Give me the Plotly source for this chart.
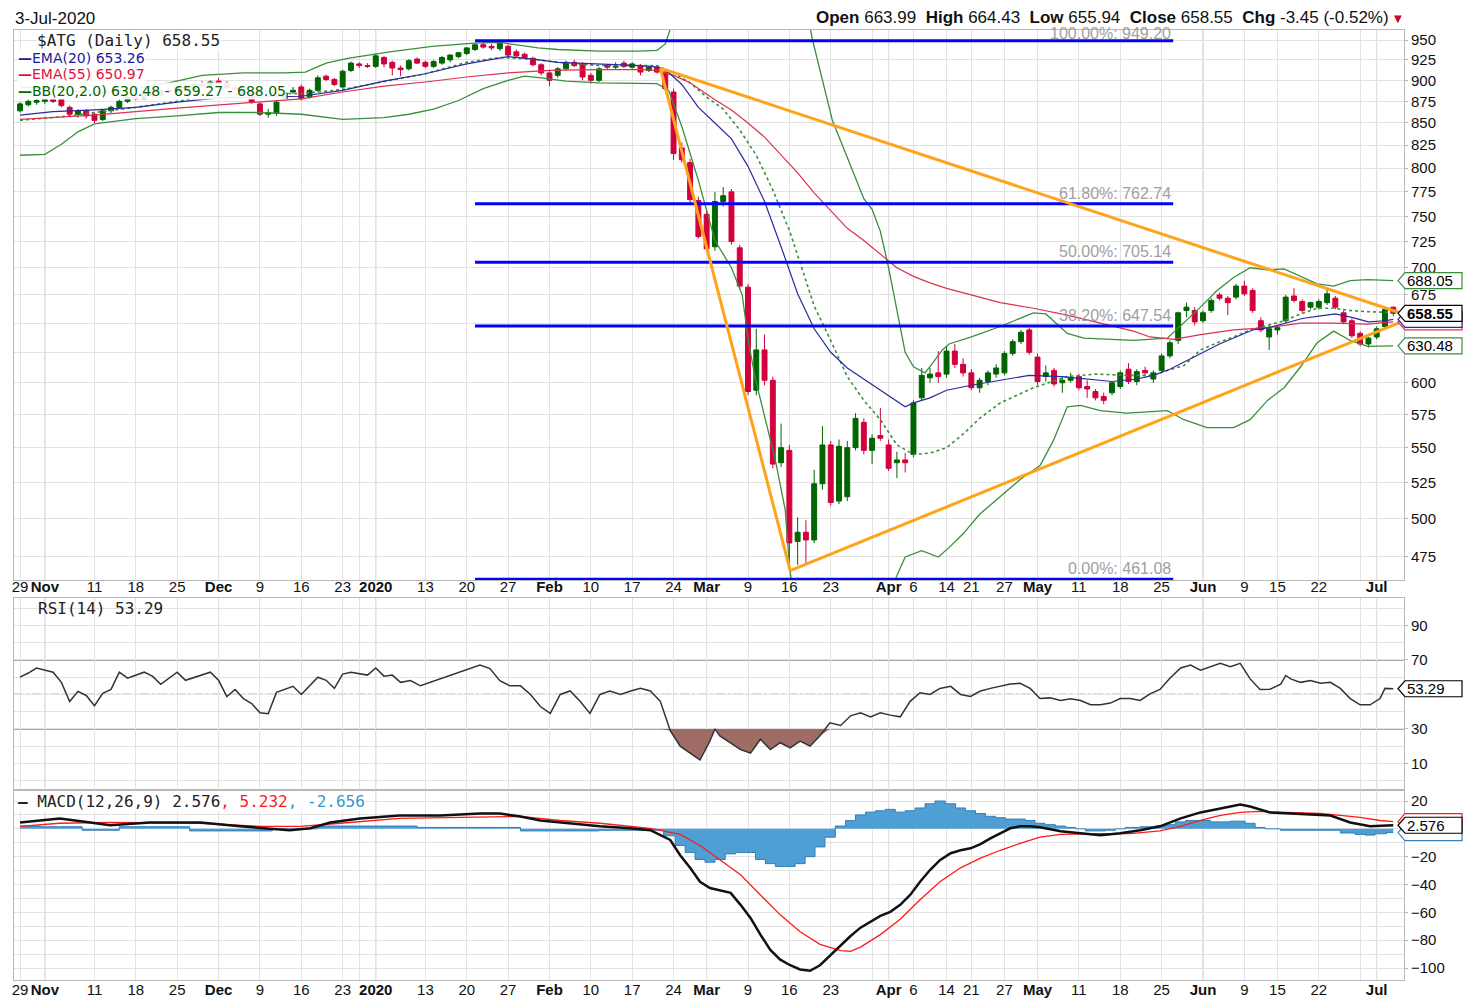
import numpy as np
import plotly.graph_objects as go

# ---------------- data (trading-day index 0..166, 29-Oct-2019 .. 3-Jul-2020) ----------------
tick_idx = [0, 3, 9, 14, 19, 24, 29, 34, 39, 43, 49, 54, 59, 64, 69, 74, 79, 83, 88, 93, 98,
            105, 108, 112, 115, 119, 123, 128, 133, 138, 143, 148, 152, 157, 164]
tick_text = ['29', 'Nov', '11', '18', '25', 'Dec', '9', '16', '23', '2020', '13', '20', '27', 'Feb',
             '10', '17', '24', 'Mar', '9', '16', '23', 'Apr', '6', '14', '21', '27', 'May', '11', '18',
             '25', 'Jun', '9', '15', '22', 'Jul']
month_idx = [3, 24, 43, 64, 83, 105, 123, 143, 164]
extra_week_idx = [41, 103, 162]

opens = [864, 871, 874, 875, 877, 877, 868, 860, 864, 860,
         854, 864, 868, 875, 880, 878, 885, 882, 888, 886,
         892, 890, 895, 894, 899, 896, 891, 889, 884, 872,
         860, 861, 878, 886, 892, 880, 888, 905, 901, 892,
         912, 920, 918, 917, 928, 922, 915, 914, 926, 922,
         917, 921, 925, 929, 933, 938, 944, 942, 939, 942,
         935, 932, 927, 919, 909, 906, 914, 922, 919, 906,
         900, 918, 916, 921, 916, 918, 912, 916, 910, 886,
         822, 806, 766, 752, 720, 765, 775, 719, 682, 594,
         627, 602, 539, 548, 485, 491, 486, 524, 552, 512,
         515, 550, 569, 548, 559, 552, 539, 541, 545, 588,
         604, 608, 607, 626, 615, 608, 596, 601, 607, 608,
         624, 634, 644, 621, 605, 610, 600, 602, 605, 597,
         593, 589, 592, 597, 611, 601, 610, 603, 610, 622,
         635, 661, 661, 652, 661, 675, 672, 673, 683, 679,
         652, 638, 644, 652, 674, 669, 664, 664, 668, 672,
         659, 652, 641, 632, 638, 647, 663.99]
highs = [874, 877, 878, 879, 880, 880, 870, 866, 866, 862,
         866, 870, 877, 882, 884, 886, 888, 890, 892, 894,
         896, 897, 899, 900, 903, 899, 895, 893, 887, 874,
         866, 876, 888, 892, 895, 890, 906, 907, 903, 913,
         923, 922, 921, 933, 930, 924, 918, 926, 928, 924,
         925, 930, 932, 935, 941, 946, 947, 945, 949.2, 944,
         938, 934, 929, 921, 911, 916, 924, 925, 922, 909,
         916, 920, 922, 924, 922, 920, 918, 918, 912, 890,
         828, 810, 770, 758, 775, 780, 778, 722, 685, 645,
         640, 605, 568, 552, 501, 499, 534, 566, 555, 556,
         555, 576, 572, 560, 580, 556, 547, 546, 586, 612,
         612, 626, 630, 632, 620, 611, 604, 610, 615, 626,
         636, 644, 646, 624, 614, 612, 605, 608, 607, 602,
         595, 592, 601, 610, 616, 611, 613, 610, 624, 635,
         660, 668, 664, 661, 672, 677, 674, 685, 688, 681,
         655, 648, 648, 675, 681, 671, 669, 671, 681, 674,
         661, 654, 643, 638, 647, 663, 664.43]
lows = [862, 869, 871, 872, 873, 868, 858, 856, 855, 850,
        852, 861, 866, 873, 876, 877, 880, 881, 884, 885,
        887, 888, 891, 892, 893, 889, 886, 882, 872, 858,
        856, 858, 876, 884, 876, 878, 886, 899, 893, 890,
        910, 915, 915, 915, 916, 906, 905, 912, 920, 915,
        915, 919, 922, 927, 931, 936, 939, 937, 936, 929,
        928, 926, 917, 906, 893, 903, 912, 916, 900, 896,
        898, 913, 913, 915, 914, 906, 910, 908, 888, 809,
        806, 764, 728, 715, 716, 760, 722, 680, 590, 590,
        598, 535, 536, 470, 470, 471, 484, 520, 509, 510,
        512, 548, 545, 538, 555, 533, 528, 532, 543, 586,
        600, 600, 604, 612, 605, 594, 592, 598, 604, 606,
        622, 632, 623, 598, 601, 597, 592, 600, 594, 588,
        586, 583, 590, 595, 599, 598, 605, 600, 608, 620,
        632, 655, 648, 650, 659, 670, 657, 671, 674, 659,
        642, 627, 640, 650, 668, 659, 662, 662, 666, 662,
        649, 637, 630, 629, 636, 645, 655.94]
closes = [872, 875, 876, 877, 875, 870, 860, 864, 858, 853,
          864, 868, 875, 880, 878, 885, 882, 888, 886, 892,
          890, 895, 893, 898, 896, 891, 889, 884, 874, 860,
          862, 874, 885, 888, 878, 888, 903, 901, 895, 911,
          921, 918, 917, 930, 920, 915, 913, 924, 921, 917,
          923, 928, 931, 934, 940, 944, 941, 940, 946, 931,
          930, 928, 919, 909, 900, 914, 922, 918, 904, 900,
          914, 916, 917, 917, 920, 910, 916, 910, 890, 816,
          809, 767, 730, 718, 765, 771, 725, 683, 593, 627,
          602, 538, 550, 484, 491, 486, 524, 552, 511, 551,
          550, 572, 548, 557, 557, 535, 541, 539, 584, 606,
          607, 605, 626, 615, 608, 596, 602, 608, 612, 624,
          634, 642, 625, 601, 608, 599, 602, 604, 596, 595,
          588, 586, 600, 608, 601, 609, 608, 608, 622, 633,
          659, 664, 651, 659, 670, 672, 668, 683, 676, 661,
          644, 645, 646, 673, 670, 661, 668, 669, 676, 664,
          651, 639, 632, 637, 645, 662, 658.55]

ema20_pts = [(0, 859), (4, 863), (9, 865), (14, 868), (19, 874), (24, 879), (29, 880), (34, 881), (39, 888),
             (44, 899), (49, 908), (54, 920), (59, 929), (62, 926), (65, 922), (70, 920), (75, 918), (77, 916),
             (78, 913), (80, 895), (82, 868), (84, 850), (86, 832), (88, 802), (90, 765), (92, 720), (94, 676),
             (96, 645), (98, 625), (100, 612), (102, 603), (104, 594), (106, 585), (107, 581), (108, 584),
             (110, 588), (112, 594), (115, 598), (118.5, 602), (122, 606), (126, 605), (129, 603), (132, 601),
             (135, 603), (137, 606), (139, 611), (141, 618), (143, 625), (145, 632), (147, 638), (149, 644),
             (151, 646), (153, 650), (155, 654), (157, 656), (159, 658), (161, 655), (163, 651), (165, 652),
             (166, 653.26)]
ema55_pts = [(0, 854), (9, 859), (19, 867), (29, 874), (34, 878), (39, 886), (44, 893), (49, 898), (54, 904),
             (59, 909), (64, 912), (70, 913), (75, 913), (77, 912), (79, 906), (81, 897), (84, 877), (86, 865),
             (88, 850), (90, 834), (92, 814), (94, 795), (96, 774), (98, 756), (100, 738), (102, 726), (104, 713),
             (106, 700), (108, 692), (110, 686), (112, 681), (115, 675), (118.5, 668), (122.5, 663), (126.6, 657),
             (130.6, 650), (134.6, 643), (136.6, 638), (139.5, 636), (142.7, 640), (146.7, 644), (150.8, 646),
             (154.8, 650), (158.8, 650), (162.9, 649), (166, 650.97)]
bb_up_pts = [(0, 892), (5, 889), (9, 884), (14, 890), (18, 897), (22, 906), (27, 909), (32, 909), (34.5, 910),
             (37, 921), (39.6, 927), (44.7, 935), (49.8, 942), (54.9, 946), (58, 947), (60, 944), (62.6, 940),
             (65, 938), (70, 936), (75, 936), (77, 937), (78, 945), (79, 975), (80, 1010), (85, 1100), (90, 1150),
             (94, 1050), (95.8, 950), (98.2, 853), (100.2, 806), (102, 768), (103, 757), (104, 735), (105, 700),
             (106, 660), (107, 625), (108, 613), (109.4, 608), (110.2, 615), (111.5, 627), (112.3, 632),
             (115, 638), (118.5, 647), (122.5, 659), (124, 658), (126.6, 641), (128.6, 637), (134.6, 635),
             (138.7, 637), (140.7, 650), (142.7, 664), (144.7, 679), (146.7, 691), (148.7, 700), (150.8, 698),
             (152.8, 699), (154.8, 692), (156.8, 685), (158.8, 683), (160.8, 688), (162.9, 689), (166, 688.05)]
bb_mid_pts = [(0, 853), (5, 857), (9, 862), (14, 868), (19, 875), (24, 883), (29, 885), (34, 884), (39, 889),
              (44, 898), (49, 908), (54, 922), (58, 928), (62, 926), (65, 922), (70, 918), (75, 918), (77, 918),
              (79, 909), (81, 897), (83, 880), (85, 866), (87, 842), (89, 814), (91, 777), (93, 736), (94.5, 700),
              (96, 665), (98, 635), (100, 605), (102, 586), (104, 571), (106, 552), (108, 545), (110, 546),
              (112, 550), (114, 560), (116, 572), (118.5, 584), (122.5, 596), (126.6, 605), (130, 607), (134, 606),
              (137, 606), (138.7, 610), (140.7, 614), (142.7, 627), (144.7, 633), (146.7, 638), (148.7, 644),
              (150.8, 648), (152.8, 652), (154.8, 658), (156.8, 663), (158.8, 663), (160.8, 661), (162.9, 660),
              (166, 659.27)]
bb_lo_pts = [(0, 814), (3, 815), (5, 826), (7, 840), (9, 849), (14, 855), (19, 858), (24, 862), (29, 862),
             (34, 860), (39, 854), (44, 856), (47, 860), (50, 866), (53, 876), (56, 890), (59, 900), (61, 905),
             (63, 903), (66, 899), (70, 897), (77, 896), (78.4, 888), (80, 846), (82, 787), (84, 726), (86, 700),
             (87.3, 675), (88.1, 632), (88.9, 603), (90.1, 571), (91.3, 541), (92.5, 506), (93, 470), (94, 430),
             (96, 380), (100, 370), (104, 400), (105.8, 461), (107, 475), (109, 479), (111, 475), (112.3, 481),
             (114, 490), (116, 503), (118.5, 515), (120.9, 527), (123.3, 537), (124.9, 555), (126.6, 581),
             (128.2, 582), (130.6, 578), (133.8, 576), (138.7, 578), (140.7, 571), (143.5, 565), (146.7, 565),
             (148.7, 571), (150.8, 586), (152.8, 596), (154.8, 613), (156.8, 633), (158.8, 643), (160.8, 635),
             (162.9, 630), (166, 630.48)]

fib_levels = [949.20, 762.74, 705.14, 647.54, 461.08]
fib_labels = ['100.00%: 949.20', '61.80%: 762.74', '50.00%: 705.14', '38.20%: 647.54', '0.00%: 461.08']
fib_span = [55, 139.4]

# trend-line vertices (day index, price)
trend_top = (77.4, 914.9)
trend_low = (93.1, 466.4)
trend_upper_end = (166.9, 658.8)
trend_lower_end = (166.9, 650.9)

rsi_pts = [(0, 60), (1, 62.4), (2, 65.3), (4, 62.9), (5, 57), (6, 45.9), (7, 51.8), (8, 49.4), (9, 43.5),
           (10, 50.6), (11, 52.9), (12, 62.9), (13, 59.4), (15, 62.9), (16, 60.6), (17, 55.9), (19, 62.9),
           (20, 58.2), (23, 62.9), (24, 58.2), (25, 48.8), (26, 52.9), (27, 47.6), (28, 44.7), (29, 39.4),
           (30, 38.8), (31, 51.2), (33, 54.7), (34, 50), (36, 60), (37, 58.2), (38, 53.5), (39, 61.8),
           (40, 62.9), (42, 61.2), (43, 65.3), (44, 60.6), (45, 61.2), (46, 57), (47.2, 58), (48.4, 55),
           (50.8, 59), (53.2, 63), (54.4, 65), (55.6, 67), (56.8, 65), (58, 58), (59.2, 55), (60.5, 55),
           (61.7, 50), (62.9, 43), (64.1, 39), (65.3, 50), (66.5, 52), (67.7, 46), (68.9, 39), (70.1, 50),
           (71.3, 52), (72.6, 50), (73.8, 52), (75, 53.5), (76.2, 52), (77.4, 46), (78.6, 29), (79.8, 20),
           (81, 16), (82.2, 12), (83.4, 23), (84, 30), (84.6, 26), (85.9, 22), (87.1, 18), (88.3, 16),
           (89.5, 24), (90.7, 18), (91.9, 22), (93.1, 19), (94.3, 23), (95.5, 20), (96.7, 26), (97.9, 33.5),
           (99.2, 32), (100.4, 37.6), (101.6, 39.4), (102.8, 37), (104, 39.4), (105.2, 38), (106.4, 37),
           (107.6, 46), (108.8, 51), (110, 50), (111.2, 53.5), (112.5, 54.7), (113.7, 50), (114.9, 48.8),
           (116.1, 52), (117.3, 53.5), (118.5, 54.7), (119.7, 56), (120.9, 56.5), (122.1, 53.5), (123.3, 47.6),
           (124.5, 48), (125.8, 46.5), (127, 47.5), (128.2, 46.5), (129.4, 44), (130.6, 44), (131.8, 45),
           (133, 47.6), (134.2, 47.6), (135.4, 46.5), (136.6, 50.3), (137.8, 52.9), (139, 59.4), (140.3, 65.3),
           (141.5, 67), (142.7, 64), (143.9, 66), (145.1, 68), (146.3, 66), (147.5, 68), (148.7, 59),
           (149.9, 52.9), (151.1, 53), (152.4, 56), (153, 61), (153.6, 59), (154.8, 57), (156, 58),
           (157.2, 56.5), (158.4, 57), (159.6, 53.5), (160.8, 47.6), (162, 44), (163.2, 44), (164.4, 47.6),
           (165, 53.5), (166, 53.29)]

macd_pts = [(0, 4.6), (2.4, 6), (4.8, 7.5), (8.5, 4.6), (10.9, 2.5), (15.7, 4.6), (21.8, 4.6), (26.6, 1.8),
            (30.2, 0.4), (32.6, -1), (35.1, 0.4), (37.5, 4.6), (41.1, 7.5), (45.9, 9.6), (50.8, 9.6), (55.6, 11),
            (58, 11), (60.5, 8.9), (62.9, 6), (65.3, 4.6), (70.1, 1.8), (73.8, 0.4), (76.2, -1), (78.6, -8),
            (79.8, -19), (81, -28), (82.2, -38), (83.4, -42.5), (84.6, -44), (85.9, -46), (87.1, -54.6),
            (88.3, -64), (89.5, -76), (90.7, -87), (91.9, -94), (93.1, -98), (94.3, -101), (95.5, -102),
            (96.7, -98), (97.9, -91), (99.2, -84), (100.4, -77), (101.6, -71), (102.8, -67), (104, -62.5),
            (105.2, -59.6), (106.4, -54.6), (107.6, -47.5), (108.8, -38), (110, -29.6), (111.2, -22.5),
            (112.5, -17.5), (113.7, -15.4), (114.9, -14), (116.1, -11), (117.3, -6.8), (118.5, -3.2),
            (119.7, 0.4), (120.9, 1.8), (122.1, 1.8), (123.3, 1.2), (124.5, -0.4), (125.8, -1.8), (128.2, -3.2),
            (130.6, -4.6), (133, -3.2), (135.4, -1), (137.8, 1.8), (140.3, 7.5), (142.7, 11.8), (145.1, 14.6),
            (147.5, 17.5), (148.7, 16), (151.1, 11.8), (153.6, 11), (156, 10.4), (158.4, 9.6), (160.8, 4.6),
            (163.2, 1.8), (166, 2.576)]
signal_pts = [(0, 1.8), (4.8, 4), (10.9, 4.6), (16.9, 4), (21.8, 4), (29, 1.8), (33.9, 1.8), (38.7, 4),
              (45.9, 7.5), (53.2, 8.2), (60.5, 8.9), (65.3, 6), (70.1, 4), (76.2, 0.4), (79.8, -4), (82.2, -12),
              (84.6, -22.5), (87.1, -33), (89.5, -47.5), (91.9, -61.8), (94.3, -74), (96.7, -83), (99.2, -87.5),
              (100.4, -88), (101.6, -85), (104, -76), (106.4, -65), (108.8, -51), (111.2, -38), (113.7, -28),
              (116.1, -21), (118.5, -15.4), (120.9, -10.4), (123.3, -6), (125.8, -4), (128.2, -3.5),
              (130.6, -3.5), (134.2, -3.5), (137.8, -1.5), (140.3, 1.8), (142.7, 6), (145.1, 9.6), (147.5, 11.8),
              (149.9, 12.5), (152.4, 12), (154.8, 12), (157.2, 11), (159.6, 9.6), (162, 8.2), (164.4, 6),
              (166, 5.232)]
hist_pts = [(0, 2), (5, 1.5), (10, -1), (14, 1.5), (27, -1.5), (34, 0), (38, 2), (58, 1), (63, -1.5), (77, -1),
            (78.6, -5), (79.8, -12), (81, -17), (82.2, -22), (83.4, -24), (84.6, -22), (85.9, -18), (87.1, -17),
            (88.3, -17), (89.5, -22), (90.7, -25), (91.9, -27), (93.1, -27), (94.3, -25), (95.5, -20),
            (96.7, -13), (97.9, -6), (99.2, 2), (100.4, 6), (101.6, 10), (102.8, 12), (104, 13), (105.2, 14),
            (106.4, 12), (107.6, 13), (108.8, 15), (110, 18), (111.2, 20), (112.5, 18), (113.7, 15),
            (114.9, 13), (116.1, 11), (117.3, 9), (118.5, 8), (119.7, 7), (120.9, 7), (122.1, 6), (123.3, 4),
            (124.5, 3), (125.8, 2), (127, 1), (128.2, 0), (129.4, -1.5), (130.6, -1.5), (131.8, -1), (133, 0),
            (134.2, 1), (136.6, 1.5), (137.8, 2), (139, 3), (140.3, 5), (141.5, 6), (142.7, 6), (145.1, 5),
            (147.5, 5.5), (148.7, 4), (149.9, 1), (151.1, 0), (153.6, -1), (158.4, -1), (160.8, -3), (162, -4),
            (163.2, -4.5), (164.4, -3.5), (166, -2.656)]

# ---------------- layout geometry ----------------
W, H = 1463, 999
ML, MR, MT, MB = 14, 59, 30, 19
PW, PH = W - ML - MR, H - MT - MB


def pyf(ypix):
    return (H - MB - ypix) / PH


def pxf(xpix):
    return (xpix - ML) / PW


MAIN_DOM = [pyf(580), 1.0]
RSI_DOM = [pyf(790), pyf(598)]
MACD_DOM = [0.0, pyf(790)]
XR = [-0.73, 167.3]

GREEN = '#006400'
RED = '#d2003c'
BBG = '#3a8f3a'
EMA20C = '#2a2aa0'
EMA55C = '#dc3250'


def split(pts):
    return [p[0] for p in pts], [p[1] for p in pts]


fig = go.Figure()
idx = list(range(len(closes)))

for pts, col, dash, wd in [(bb_up_pts, BBG, 'solid', 1.3), (bb_lo_pts, BBG, 'solid', 1.3),
                           (bb_mid_pts, BBG, 'dot', 1.6), (ema55_pts, EMA55C, 'solid', 1.2),
                           (ema20_pts, EMA20C, 'solid', 1.2)]:
    xs, ys = split(pts)
    fig.add_trace(go.Scatter(x=xs, y=ys, mode='lines', line=dict(color=col, width=wd, dash=dash),
                             xaxis='x', yaxis='y', hoverinfo='skip'))

fig.add_trace(go.Candlestick(x=idx, open=opens, high=highs, low=lows, close=closes,
                             increasing=dict(line=dict(color=GREEN, width=1), fillcolor=GREEN),
                             decreasing=dict(line=dict(color=RED, width=1), fillcolor=RED),
                             whiskerwidth=0, xaxis='x', yaxis='y', hoverinfo='skip'))

for lv in fib_levels:
    fig.add_trace(go.Scatter(x=fib_span, y=[lv, lv], mode='lines', line=dict(color='#0000ff', width=3),
                             xaxis='x', yaxis='y', hoverinfo='skip'))

for a, b in [(trend_top, trend_low), (trend_low, trend_lower_end), (trend_top, trend_upper_end)]:
    fig.add_trace(go.Scatter(x=[a[0], b[0]], y=[a[1], b[1]], mode='lines',
                             line=dict(color='#ffa31a', width=3), xaxis='x', yaxis='y', hoverinfo='skip'))

# RSI
rx, rv = split(rsi_pts)
fig.add_trace(go.Scatter(x=rx, y=[30] * len(rx), mode='lines', line=dict(width=0), xaxis='x2', yaxis='y2',
                         hoverinfo='skip'))
fig.add_trace(go.Scatter(x=rx, y=[min(v, 30) for v in rv], mode='lines', line=dict(width=0),
                         fill='tonexty', fillcolor='#9e6c65', xaxis='x2', yaxis='y2', hoverinfo='skip'))
fig.add_trace(go.Scatter(x=rx, y=rv, mode='lines', line=dict(color='#333333', width=1.5),
                         xaxis='x2', yaxis='y2', hoverinfo='skip'))

# MACD
hx, hv = split(hist_pts)
fig.add_trace(go.Scatter(x=hx, y=hv, mode='lines', line=dict(color='#2f7fb8', width=1, shape='hvh'),
                         fill='tozeroy', fillcolor='#4f9fd4', xaxis='x3', yaxis='y3', hoverinfo='skip'))
sx, sv = split(signal_pts)
fig.add_trace(go.Scatter(x=sx, y=sv, mode='lines', line=dict(color='#ff1a1a', width=1.3),
                         xaxis='x3', yaxis='y3', hoverinfo='skip'))
mx, mv = split(macd_pts)
fig.add_trace(go.Scatter(x=mx, y=mv, mode='lines', line=dict(color='#111111', width=2.5),
                         xaxis='x3', yaxis='y3', hoverinfo='skip'))

AX_FONT = dict(family='Liberation Sans, Arial', size=15, color='#111111')
X_FONT = dict(family='Liberation Sans, Arial', size=15, color='#111111')
tick_lbl = ['<b>%s</b>' % t if i in month_idx else t for i, t in zip(tick_idx, tick_text)]

xcommon = dict(range=XR, showgrid=True, gridcolor='#e2e2e2', gridwidth=1, zeroline=False, automargin=False,
               showline=True, linecolor='#b8b8b8', mirror=True, ticks='', tickvals=tick_idx, tickangle=0,
               minor=dict(tickvals=extra_week_idx, showgrid=True, gridcolor='#e2e2e2'))
ycommon = dict(side='right', tickfont=AX_FONT, showgrid=True, gridcolor='#e2e2e2', zeroline=False,
               automargin=False, showline=True, linecolor='#b8b8b8', mirror=True, ticks='outside', ticklen=3,
               tickcolor='#b8b8b8')

fig.update_layout(
    width=W, height=H, margin=dict(l=ML, r=MR, t=MT, b=MB), paper_bgcolor='white', plot_bgcolor='white',
    showlegend=False, boxgap=0.15,
    xaxis=dict(domain=[0, 1], anchor='y', ticktext=tick_lbl, tickfont=X_FONT, ticklabelstandoff=-7,
               rangeslider=dict(visible=False), **xcommon),
    xaxis2=dict(domain=[0, 1], anchor='y2', matches='x', showticklabels=False, **xcommon),
    xaxis3=dict(domain=[0, 1], anchor='y3', matches='x', ticktext=tick_lbl, tickfont=X_FONT,
                ticklabelstandoff=-4, **xcommon),
    yaxis=dict(domain=MAIN_DOM, type='log', range=[2.663297, 2.983547],
               tickvals=[v for v in range(475, 951, 25) if v not in (625, 650)],
               minor=dict(tickvals=[625, 650], showgrid=True, gridcolor='#e2e2e2', ticks=''), **ycommon),
    yaxis2=dict(domain=RSI_DOM, range=[-5.4, 105.9], tickvals=[10, 30, 70, 90],
                minor=dict(tickvals=[0, 20, 40, 50, 60, 80, 100], showgrid=True, gridcolor='#e2e2e2'),
                **ycommon),
    yaxis3=dict(domain=MACD_DOM, range=[-108.6, 27.9], tickvals=[-100, -80, -60, -40, -20, 20],
                minor=dict(tickvals=[-90, -70, -50, -30, -10, 0, 10], showgrid=True, gridcolor='#e2e2e2'),
                **ycommon),
)

shapes = []
for m in month_idx:
    for dom in (MAIN_DOM, RSI_DOM, MACD_DOM):
        shapes.append(dict(type='line', xref='x', yref='paper', x0=m, x1=m, y0=dom[0], y1=dom[1],
                           line=dict(color='#c4c4c4', width=1), layer='below'))
for lv, dash in [(70, 'solid'), (30, 'solid'), (50, 'dashdot')]:
    shapes.append(dict(type='line', xref='paper', yref='y2', x0=0, x1=1, y0=lv, y1=lv,
                       line=dict(color='#555555' if dash == 'solid' else '#777777', width=1.2, dash=dash),
                       layer='below'))


def tag(yref, yval, color, width=58):
    return dict(type='path', xref='paper', yref=yref, xsizemode='pixel', ysizemode='pixel', xanchor=1,
                yanchor=yval, path='M -6 0 L 1 8 L %d 8 L %d -8 L 1 -8 Z' % (width, width),
                fillcolor='white', line=dict(color=color, width=1.2), layer='above')


shapes += [tag('y', 650.97, EMA55C), tag('y', 653.26, EMA20C), tag('y', 688.05, BBG),
           tag('y', 630.48, BBG), tag('y', 658.55, '#000000'),
           tag('y2', 53.29, '#000000'),
           tag('y3', -2.656, '#3a7fc0'), tag('y3', 5.232, '#ff1a1a'), tag('y3', 2.576, '#000000')]
fig.update_layout(shapes=shapes)

ann = []
TAGF = dict(family='Liberation Sans, Arial', size=15, color='#000000')
for yref, val, txt, bold in [('y', np.log10(688.05), '688.05', False), ('y', np.log10(630.48), '630.48', False),
                             ('y', np.log10(658.55), '658.55', True), ('y2', 53.29, '53.29', False),
                             ('y3', 2.576, '2.576', False)]:
    ann.append(dict(xref='paper', x=1, xanchor='left', xshift=1, yref=yref, y=val, yanchor='middle',
                    text='<b>%s</b>' % txt if bold else txt, showarrow=False, font=TAGF))

for k, (lv, lb) in enumerate(zip(fib_levels, fib_labels)):
    ann.append(dict(xref='x', x=fib_span[1], xanchor='right', yref='y', y=np.log10(lv), yanchor='bottom',
                    yshift=-3 if k == 0 else 0, text=lb, showarrow=False,
                    font=dict(family='Liberation Sans, Arial', size=16, color='#a0a0a0')))

MONO = 'DejaVu Sans Mono, Liberation Mono'
PROP = 'DejaVu Sans, Verdana'
legend_rows = [(41, '$ATG (Daily) 658.55', '#222222', '', MONO, 16),
               (58, 'EMA(20) 653.26', '#1a1a9e', '<b>—</b>', PROP, 14),
               (74, 'EMA(55) 650.97', '#e0103c', '<b>—</b>', PROP, 14),
               (91, 'BB(20,2.0) 630.48 - 659.27 - 688.05', '#006400', '<b>—</b>', PROP, 14)]
for ypx, txt, col, pre, fam, sz in legend_rows:
    ann.append(dict(xref='paper', x=pxf(17 if pre else 36), xanchor='left', yref='paper', y=pyf(ypx),
                    yanchor='middle', text=pre + txt, showarrow=False, bgcolor='rgba(255,255,255,0.9)',
                    borderpad=0, font=dict(family=fam, size=sz, color=col)))

ann.append(dict(xref='paper', x=pxf(36), xanchor='left', yref='paper', y=pyf(608), yanchor='middle',
                text='RSI(14) 53.29', showarrow=False, font=dict(family=MONO, size=16, color='#222222')))
ann.append(dict(xref='paper', x=pxf(17), xanchor='left', yref='paper', y=pyf(801), yanchor='middle',
                text='<b>—</b> MACD(12,26,9) 2.576<span style="color:#ff1a1a">, 5.232</span>'
                     '<span style="color:#3399cc">, -2.656</span>',
                showarrow=False, bgcolor='rgba(255,255,255,0.9)', borderpad=0,
                font=dict(family=MONO, size=16, color='#222222')))

ann.append(dict(xref='paper', x=pxf(13), xanchor='left', yref='paper', y=pyf(19), yanchor='middle',
                text='3-Jul-2020', showarrow=False, font=dict(family='Liberation Sans, Arial', size=17,
                                                               color='#111111')))
ann.append(dict(xref='paper', x=pxf(1391), xanchor='right', yref='paper', y=pyf(17), yanchor='middle',
                text='<b>Open</b> 663.99  <b>High</b> 664.43  <b>Low</b> 655.94  <b>Close</b> 658.55  '
                     '<b>Chg</b> -3.45 (-0.52%)',
                showarrow=False, font=dict(family='Liberation Sans, Arial', size=17, color='#111111')))
ann.append(dict(xref='paper', x=pxf(1398), xanchor='center', yref='paper', y=pyf(18), yanchor='middle',
                text='▼', showarrow=False, font=dict(family='DejaVu Sans', size=10, color='#cc0033')))
fig.update_layout(annotations=ann)

fig.write_html('out.html', config={'displayModeBar': False})
